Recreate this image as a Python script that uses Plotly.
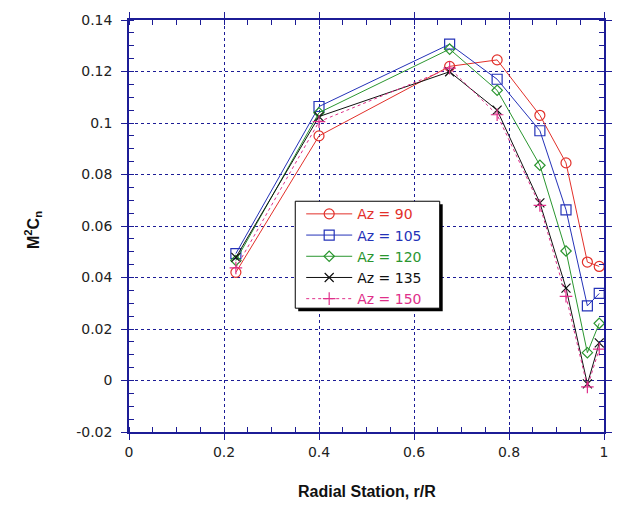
import plotly.graph_objects as go

r_stations = [0.225, 0.4, 0.675, 0.775, 0.865, 0.92, 0.965, 0.99]
az90 = [0.042, 0.095, 0.122, 0.1245, 0.103, 0.0845, 0.046, 0.0443]
az105 = [0.0493, 0.1064, 0.1306, 0.117, 0.097, 0.0663, 0.029, 0.0338]
az120 = [0.0466, 0.104, 0.1287, 0.1127, 0.0836, 0.0503, 0.0108, 0.0222]
az135 = [0.0478, 0.1025, 0.1199, 0.105, 0.069, 0.0359, -0.0013, 0.0146]
az150 = [0.0437, 0.1005, 0.1213, 0.1032, 0.068, 0.0327, -0.0025, 0.0122]

series = [
    ("Az = 90", az90, "#e2302a", "circle-open", 10, "solid"),
    ("Az = 105", az105, "#2432b8", "square-open", 10, "solid"),
    ("Az = 120", az120, "#2a962f", "diamond-open", 8, "solid"),
    ("Az = 135", az135, "#111111", "x-thin-open", 9, "solid"),
    ("Az = 150", az150, "#e0308a", "cross-thin-open", 9, "dot"),
]

AXC = "#1c1c96"
fig = go.Figure()
for name, vals, col, sym, sz, dash in series:
    fig.add_trace(go.Scatter(
        x=r_stations, y=vals, mode="lines+markers",
        name=f"<span style='color:{col}'>{name}</span>",
        line=dict(color=col, width=1, dash=dash),
        marker=dict(symbol=sym, size=sz, color=col, line=dict(color=col, width=1.2)),
    ))

axis_common = dict(
    showline=True, linecolor=AXC, linewidth=1.5, mirror="ticks",
    ticks="outside", ticklen=6, tickwidth=1.3, tickcolor=AXC,
    showgrid=True, gridcolor=AXC, griddash="dot", gridwidth=1,
    zeroline=False,
    tickfont=dict(family="DejaVu Sans", size=14, color="#222222"),
    minor=dict(ticks="inside", ticklen=5, tickwidth=1.2, tickcolor=AXC, showgrid=False),
)

fig.update_xaxes(range=[0, 1], tickvals=[0, 0.2, 0.4, 0.6, 0.8, 1],
                 ticktext=["0", "0.2", "0.4", "0.6", "0.8", "1"], **axis_common)
fig.update_xaxes(minor_dtick=0.05, minor_tick0=0)
fig.update_yaxes(range=[-0.02, 0.14], tickvals=[-0.02, 0, 0.02, 0.04, 0.06, 0.08, 0.1, 0.12, 0.14],
                 ticktext=["-0.02", "0", "0.02", "0.04", "0.06", "0.08", "0.1", "0.12", "0.14"],
                 ticklabelstandoff=6, **axis_common)
fig.update_yaxes(minor_dtick=0.005, minor_tick0=0)

# legend box with shadow (paper coords)
L, R, T, B = 129, 609, 16, 432
def px(x): return (x - L) / (R - L)
def py(y): return (B - y) / (B - T)

fig.add_shape(type="rect", xref="paper", yref="paper",
              x0=px(300), x1=px(446), y0=py(310), y1=py(202),
              fillcolor="black", line=dict(width=0), layer="above")
fig.add_shape(type="rect", xref="paper", yref="paper",
              x0=px(297), x1=px(443), y0=py(307), y1=py(199),
              fillcolor="white", line=dict(color="black", width=1), layer="above")

fig.update_layout(
    width=624, height=510,
    margin=dict(l=L, r=624 - R, t=T, b=510 - B),
    plot_bgcolor="white", paper_bgcolor="white",
    showlegend=True,
    legend=dict(x=px(303), y=py(196), xanchor="left", yanchor="top",
                bgcolor="rgba(0,0,0,0)", borderwidth=0,
                font=dict(family="DejaVu Sans", size=14),
                itemwidth=46, tracegroupgap=0),
    annotations=[
        dict(text="<b>Radial Station, r/R</b>", xref="paper", yref="paper",
             x=0.5, y=py(492), xanchor="center", yanchor="middle", showarrow=False,
             font=dict(family="Liberation Sans", size=16, color="#111111")),
        dict(text="<b>M<sup>2</sup>C<sub>n</sub></b>", xref="paper", yref="paper",
             x=px(32), y=py(228), xanchor="center", yanchor="middle", showarrow=False,
             textangle=-90,
             font=dict(family="Liberation Sans", size=16, color="#111111")),
    ],
)

fig.write_html("out.html")
